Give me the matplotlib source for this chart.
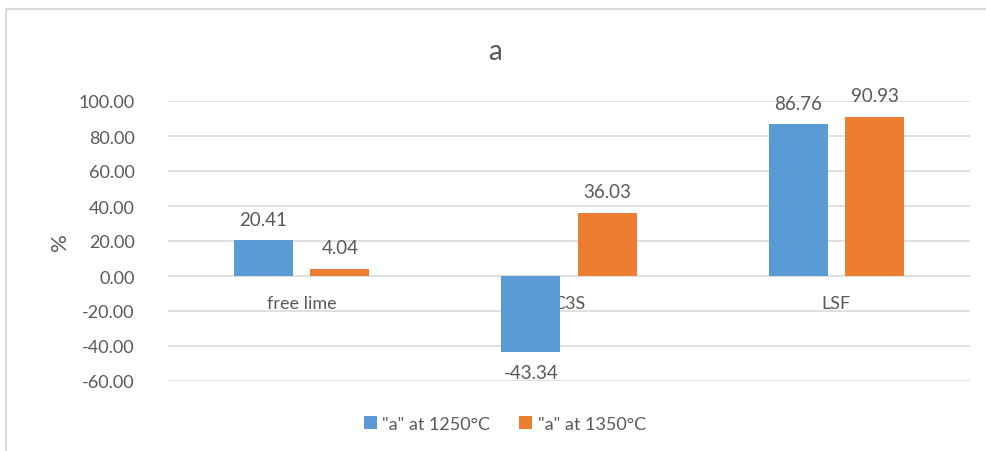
import numpy as np
import matplotlib
matplotlib.use("Agg")
import matplotlib.pyplot as plt
from matplotlib.lines import Line2D

categories = ["free lime", "C3S", "LSF"]
series_names = ['"a" at 1250°C', '"a" at 1350°C']
vals_1250 = [20.41, -43.34, 86.76]
vals_1350 = [4.04, 36.03, 90.93]
yticks = [-60, -40, -20, 0, 20, 40, 60, 80, 100]

BLUE, ORANGE = "#5B9BD5", "#ED7D31"
TXT = "#595959"
plt.rcParams["font.family"] = ["Lato", "DejaVu Sans"]

fig = plt.figure(figsize=(9.87, 4.52), dpi=100)
ax = fig.add_axes([168/987, 1 - 382/452, (970 - 168)/987, (382 - 102)/452])

x = np.arange(len(categories))
w, off = 0.22, 0.143
b1 = ax.bar(x - off, vals_1250, w, color=BLUE, zorder=3, label=series_names[0])
b2 = ax.bar(x + off, vals_1350, w, color=ORANGE, zorder=3, label=series_names[1])

for bars, vals in ((b1, vals_1250), (b2, vals_1350)):
    for r, v in zip(bars, vals):
        dy = 9 if v >= 0 else -9
        ax.annotate(f"{v:.2f}", (r.get_x() + r.get_width()/2, v), xytext=(0, dy),
                    textcoords="offset points", ha="center",
                    va="bottom" if v >= 0 else "top", fontsize=13.5, color=TXT)

# category names sit on the zero line, under the bars
for xi, c in zip(x, categories):
    ax.annotate(c, (xi, 0), xytext=(0, -19.5), textcoords="offset points",
                ha="center", va="center", fontsize=13, color=TXT, zorder=1)

ax.set_xlim(-0.5, 2.5)
ax.set_ylim(-60, 100)
ax.set_yticks(yticks)
ax.set_yticklabels([f"{t:.2f}" for t in yticks], fontsize=13, color=TXT)
ax.set_xticks([])
ax.tick_params(axis="y", length=0, pad=24)
ax.grid(axis="y", color="#d9d9d9", lw=1.2, zorder=0)
ax.set_axisbelow(True)
for s in ax.spines.values():
    s.set_visible(False)

fig.text(60/987, 1 - 242/452, "%", rotation=90, ha="center", va="center",
         fontsize=16, color=TXT)
fig.text(495/987, 1 - 52/452, "a", ha="center", va="center", fontsize=20, color=TXT)

fig.legend(handles=[b1, b2], loc="center", bbox_to_anchor=(505/987, 1 - 425/452),
           ncol=2, frameon=False, fontsize=13, labelcolor=TXT,
           handlelength=0.72, handleheight=0.72, columnspacing=1.6, handletextpad=0.3)

# chart area outline (top and left edges)
fig.add_artist(Line2D([6/987, 1], [1 - 10/452] * 2, color="#d9d9d9", lw=1.5))
fig.add_artist(Line2D([6/987] * 2, [0, 1 - 10/452], color="#d9d9d9", lw=1.5))

fig.savefig("out.png", dpi=100)
